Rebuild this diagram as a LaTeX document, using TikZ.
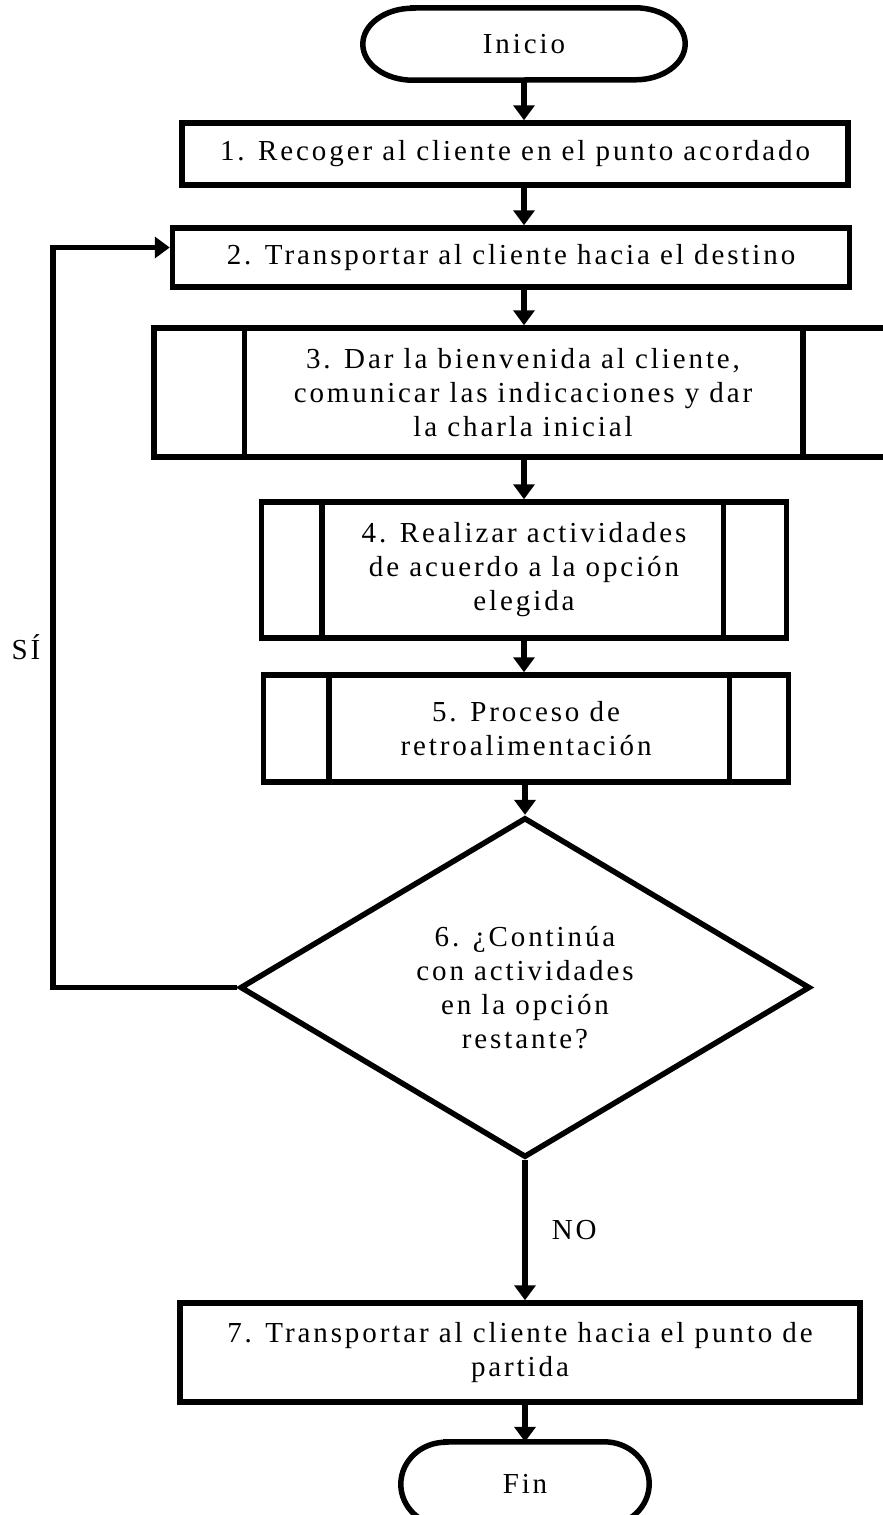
\documentclass[tikz,border=0pt]{standalone}
\usepackage{fontspec}
\setmainfont{Liberation Serif}[LetterSpace=10]
\usetikzlibrary{arrows.meta,shapes.geometric}
\begin{document}
\begin{tikzpicture}[x=1pt,y=-1pt,
  every node/.style={font=\fontsize{29}{34}\selectfont, inner sep=0pt},
  ln/.style={line width=5.5pt},
  arr/.style={ln, -{Triangle[width=21pt,length=15pt]}},
  box/.style={draw, ln, align=center},
  term/.style={align=center},
  decision/.style={diamond, draw, ln, align=center, inner sep=0pt}
]
\useasboundingbox (0,0) rectangle (883,1515);
\fill[white] (0,0) rectangle (883,1515);

% start terminal
\node[term, minimum width=322pt, minimum height=72pt] (start) at (524,44) {Inicio};
\draw[ln] ([xshift=50pt]start.north west) -- ([xshift=-50pt]start.north east)
  arc[start angle=90, end angle=-90, x radius=50pt, y radius=36pt]
  -- ([xshift=50pt]start.south west)
  arc[start angle=270, end angle=90, x radius=50pt, y radius=36pt] -- cycle;

% process steps
\node[box, minimum width=666pt, minimum height=62pt] (s1) at (515,154) {1. Recoger al cliente en el punto acordado};
\node[box, minimum width=677pt, minimum height=59pt] (s2) at (511,257.5) {2. Transportar al cliente hacia el destino};

\node[box, minimum width=738pt, minimum height=129pt] (s3) at (523,392.5)
  {3. Dar la bienvenida al cliente,\\comunicar las indicaciones y dar\\la charla inicial};
\draw[ln] ([xshift=93pt]s3.north west) -- ([xshift=93pt]s3.south west);
\draw[ln] ([xshift=-92pt]s3.north east) -- ([xshift=-92pt]s3.south east);

\node[box, minimum width=525pt, minimum height=136pt] (s4) at (524,570)
  {4. Realizar actividades\\de acuerdo a la opción\\elegida};
\draw[ln] ([xshift=63pt]s4.north west) -- ([xshift=63pt]s4.south west);
\draw[ln] ([xshift=-66pt]s4.north east) -- ([xshift=-66pt]s4.south east);

\node[box, minimum width=525pt, minimum height=107pt] (s5) at (526,728.5)
  {5. Proceso de\\retroalimentación};
\draw[ln] ([xshift=68pt]s5.north west) -- ([xshift=68pt]s5.south west);
\draw[ln] ([xshift=-62pt]s5.north east) -- ([xshift=-62pt]s5.south east);

% decision
\node[decision, minimum width=570pt, minimum height=325pt] (q6) at (525,987.5)
  {6. ¿Continúa\\con actividades\\en la opción\\restante?};

\node[box, minimum width=680pt, minimum height=99pt] (s7) at (520,1352.5)
  {7. Transportar al cliente hacia el punto de\\partida};

% end terminal, cut by the lower edge
\node[term, minimum width=248pt, minimum height=84pt] (end) at (525,1484) {Fin};
\draw[ln] ([xshift=45pt]end.north west) -- ([xshift=-45pt]end.north east)
  arc[start angle=90, end angle=-90, x radius=45pt, y radius=42pt]
  -- ([xshift=45pt]end.south west)
  arc[start angle=270, end angle=90, x radius=45pt, y radius=42pt] -- cycle;

% connectors
\draw[arr] (start.south) -- (start.south |- s1.north);
\draw[arr] (s1.south -| start.south) -- (start.south |- s2.north);
\draw[arr] (s2.south -| start.south) -- (start.south |- s3.north);
\draw[arr] (s3.south -| start.south) -- (start.south |- s4.north);
\draw[arr] (s4.south -| start.south) -- (start.south |- s5.north);
\draw[arr] (s5.south -| q6.north) -- (q6.north);
\draw[arr] (q6.south) -- node[right=24pt, pos=0.5] {NO} (q6.south |- s7.north);
\draw[arr] (s7.south -| end.north) -- (end.north);

% loop back to step 2
\coordinate (back) at (53,0);
\coordinate (s2in) at ([yshift=10pt]s2.west);
\draw[arr] (q6.west) -- (q6.west -| back) -- node[left=10pt, pos=0.46] {SÍ} (back |- s2in) -- (s2in);
\end{tikzpicture}
\end{document}
